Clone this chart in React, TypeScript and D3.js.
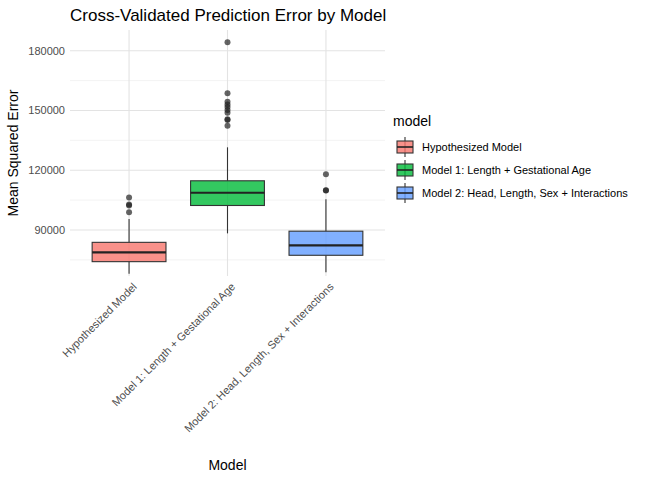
import React from "react";
import * as d3 from "d3";

const categories = ["Hypothesized Model", "Model 1: Length + Gestational Age", "Model 2: Head, Length, Sex + Interactions"];
const colors = ["#F8766D", "#00BA38", "#619CFF"];
const q1 = [74100, 102300, 77300];
const median = [78800, 108700, 82300];
const q3 = [83800, 114700, 89400];
const whiskerLow = [68000, 88300, 68800];
const whiskerHigh = [95500, 131500, 105400];
const outliers = [
  [106300, 102800, 102300, 98900],
  [184200, 158600, 154400, 153000, 151700, 150300, 148800, 145600, 145200, 142300],
  [118000, 110000, 109800],
];
const yTicks = [90000, 120000, 150000, 180000];
const yMinor = [75000, 105000, 135000, 165000];

export default function App() {
  const W = 672, H = 480;
  const L = 70, R = 385, T = 30, B = 276;
  const x = d3.scalePoint<string>().domain(categories).range([L, R]).padding(0.6);
  const y = d3.scaleLinear().domain([66900, 190400]).range([B, T]);
  const bw = x.step() * 0.75;
  const font = "Liberation Sans, Arial, sans-serif";
  return (
    <svg width={W} height={H} style={{ position: "absolute", left: 0, top: 0, fontFamily: font }}>
      <rect width={W} height={H} fill="white" />
      {yMinor.map((v) => (
        <line key={"m" + v} x1={L} x2={R} y1={y(v)} y2={y(v)} stroke="#ebebeb" strokeWidth={0.6} />
      ))}
      {yTicks.map((v) => (
        <line key={"g" + v} x1={L} x2={R} y1={y(v)} y2={y(v)} stroke="#e3e3e3" strokeWidth={1.1} />
      ))}
      {categories.map((c) => (
        <line key={"v" + c} x1={x(c)} x2={x(c)} y1={T} y2={B} stroke="#e3e3e3" strokeWidth={1.1} />
      ))}
      {yTicks.map((v) => (
        <text key={"t" + v} x={L - 5} y={y(v)} dy="0.35em" textAnchor="end" fontSize={11} fill="#4d4d4d">{v}</text>
      ))}
      {categories.map((c, i) => {
        const cx = x(c)!;
        return (
          <g key={c}>
            <line x1={cx} x2={cx} y1={y(whiskerHigh[i])} y2={y(q3[i])} stroke="#333" strokeWidth={1.1} />
            <line x1={cx} x2={cx} y1={y(q1[i])} y2={y(whiskerLow[i])} stroke="#333" strokeWidth={1.1} />
            <rect x={cx - bw / 2} y={y(q3[i])} width={bw} height={y(q1[i]) - y(q3[i])} fill={colors[i]} fillOpacity={0.8} stroke="#333" strokeWidth={1.1} />
            <line x1={cx - bw / 2} x2={cx + bw / 2} y1={y(median[i])} y2={y(median[i])} stroke="#222" strokeWidth={2.2} />
            {outliers[i].map((o, j) => (
              <circle key={j} cx={cx} cy={y(o)} r={3} fill="#222" fillOpacity={0.7} />
            ))}
            <text transform={`translate(${cx + 3},${B + 6}) rotate(-45)`} textAnchor="end" dy="0.7em" fontSize={11} fill="#4d4d4d">{c}</text>
          </g>
        );
      })}
      <text x={L} y={21} fontSize={17} fill="#000">Cross-Validated Prediction Error by Model</text>
      <text x={(L + R) / 2} y={470} textAnchor="middle" fontSize={14}>Model</text>
      <text transform={`translate(18,${(T + B) / 2}) rotate(-90)`} textAnchor="middle" fontSize={14}>Mean Squared Error</text>
      <text x={393} y={126} fontSize={14}>model</text>
      {categories.map((c, i) => {
        const ky = 137 + i * 23;
        return (
          <g key={"l" + c}>
            <line x1={405} x2={405} y1={ky} y2={ky + 20} stroke="#333" strokeWidth={1.1} />
            <rect x={397} y={ky + 4} width={16} height={12} fill={colors[i]} fillOpacity={0.8} stroke="#333" strokeWidth={1.1} />
            <line x1={397} x2={413} y1={ky + 10} y2={ky + 10} stroke="#222" strokeWidth={1.6} />
            <text x={422} y={ky + 10} dy="0.35em" fontSize={11}>{c}</text>
          </g>
        );
      })}
    </svg>
  );
}
